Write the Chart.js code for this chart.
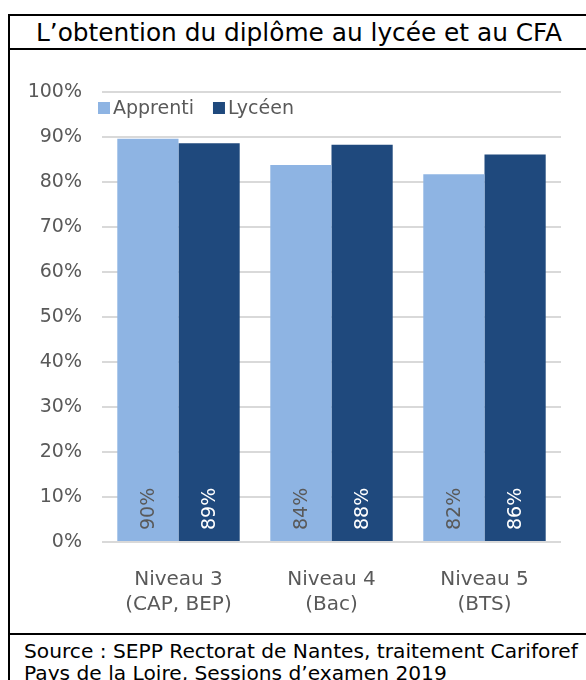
<!DOCTYPE html>
<html>
<head>
<meta charset="utf-8">
<script src="https://cdn.jsdelivr.net/npm/chart.js@4/dist/chart.umd.min.js"></script>
<style>
  body { margin: 0; background: #fff; font-family: "DejaVu Sans", sans-serif; }
  .frame { position: absolute; left: 8px; top: 14px; width: 600px; height: 700px;
           border-left: 2px solid #000; border-top: 2px solid #000; }
  .title { position: absolute; left: 0; top: 0; width: 578px; height: 32px;
           border-bottom: 2px solid #000; text-align: center; font-size: 24.8px;
           line-height: 33px; color: #000; }
  .chart-box { position: absolute; left: 0; top: 34px; width: 576px; height: 583px; }
  .source { position: absolute; left: 0; top: 617px; width: 600px; border-top: 2px solid #000;
            padding-left: 14px; font-size: 20.2px; line-height: 22px; color: #000; padding-top: 5px; }
</style>
</head>
<body>
<div class="frame">
  <div class="title">L’obtention du diplôme au lycée et au CFA</div>
  <div class="chart-box"><canvas id="c"></canvas></div>
  <div class="source">Source : SEPP Rectorat de Nantes, traitement Cariforef<br>Pays de la Loire, Sessions d’examen 2019</div>
</div>
<script>
const categories = [['Niveau 3', '(CAP, BEP)'], ['Niveau 4', '(Bac)'], ['Niveau 5', '(BTS)']];
const apprenti = [89.6, 83.8, 81.7];
const lyceen = [88.6, 88.3, 86.1];
const yTicks = [0, 10, 20, 30, 40, 50, 60, 70, 80, 90, 100];

const grey = '#595959';
const font = '"DejaVu Sans", sans-serif';

// labels tournés en bas des barres
const barLabels = {
  id: 'barLabels',
  afterDatasetsDraw(chart) {
    const ctx = chart.ctx;
    chart.data.datasets.forEach((ds, i) => {
      const meta = chart.getDatasetMeta(i);
      meta.data.forEach((bar, j) => {
        ctx.save();
        ctx.translate(bar.x, bar.base - 11);
        ctx.rotate(-Math.PI / 2);
        ctx.font = '19px ' + font;
        ctx.fillStyle = ds.labelColor;
        ctx.textAlign = 'left';
        ctx.textBaseline = 'middle';
        ctx.fillText(Math.round(ds.data[j]) + '%', 0, 1);
        ctx.restore();
      });
    });
  }
};

// légende posée dans la zone du graphique
const overlayLegend = {
  id: 'overlayLegend',
  afterDraw(chart) {
    const ctx = chart.ctx;
    let x = chart.chartArea.left - 4;
    const y = chart.chartArea.top + 16;
    ctx.save();
    ctx.font = '19px ' + font;
    ctx.textBaseline = 'middle';
    chart.data.datasets.forEach(ds => {
      ctx.fillStyle = ds.backgroundColor;
      ctx.fillRect(x, y - 6, 12, 12);
      ctx.fillStyle = grey;
      ctx.fillText(ds.label, x + 15, y + 1);
      x += 15 + ctx.measureText(ds.label).width + 19;
    });
    ctx.restore();
  }
};

new Chart(document.getElementById('c'), {
  type: 'bar',
  data: {
    labels: categories,
    datasets: [
      { label: 'Apprenti', data: apprenti, backgroundColor: '#8EB4E3', labelColor: grey,
        categoryPercentage: 0.8, barPercentage: 1.0 },
      { label: 'Lycéen', data: lyceen, backgroundColor: '#1F497D', labelColor: '#fff',
        categoryPercentage: 0.8, barPercentage: 1.0 }
    ]
  },
  options: {
    responsive: true,
    maintainAspectRatio: false,
    animation: false,
    layout: { padding: { top: 42, right: 25, left: 0, bottom: 0 } },
    plugins: { legend: { display: false }, tooltip: { enabled: false } },
    scales: {
      x: {
        grid: { display: false },
        border: { display: false },
        ticks: { color: grey, font: { family: font, size: 20, lineHeight: 1.25 }, padding: 17 },
        afterFit: s => { s.height = 91; }
      },
      y: {
        min: 0, max: 100,
        afterBuildTicks: s => { s.ticks = yTicks.map(v => ({ value: v })); },
        grid: { color: '#D9D9D9', lineWidth: 2, drawTicks: false },
        border: { display: false },
        ticks: { color: grey, font: { family: font, size: 19 }, padding: 20,
                 callback: v => v + '%' },
        afterFit: s => { s.width = 92; }
      }
    }
  },
  plugins: [barLabels, overlayLegend]
});
</script>
</body>
</html>
